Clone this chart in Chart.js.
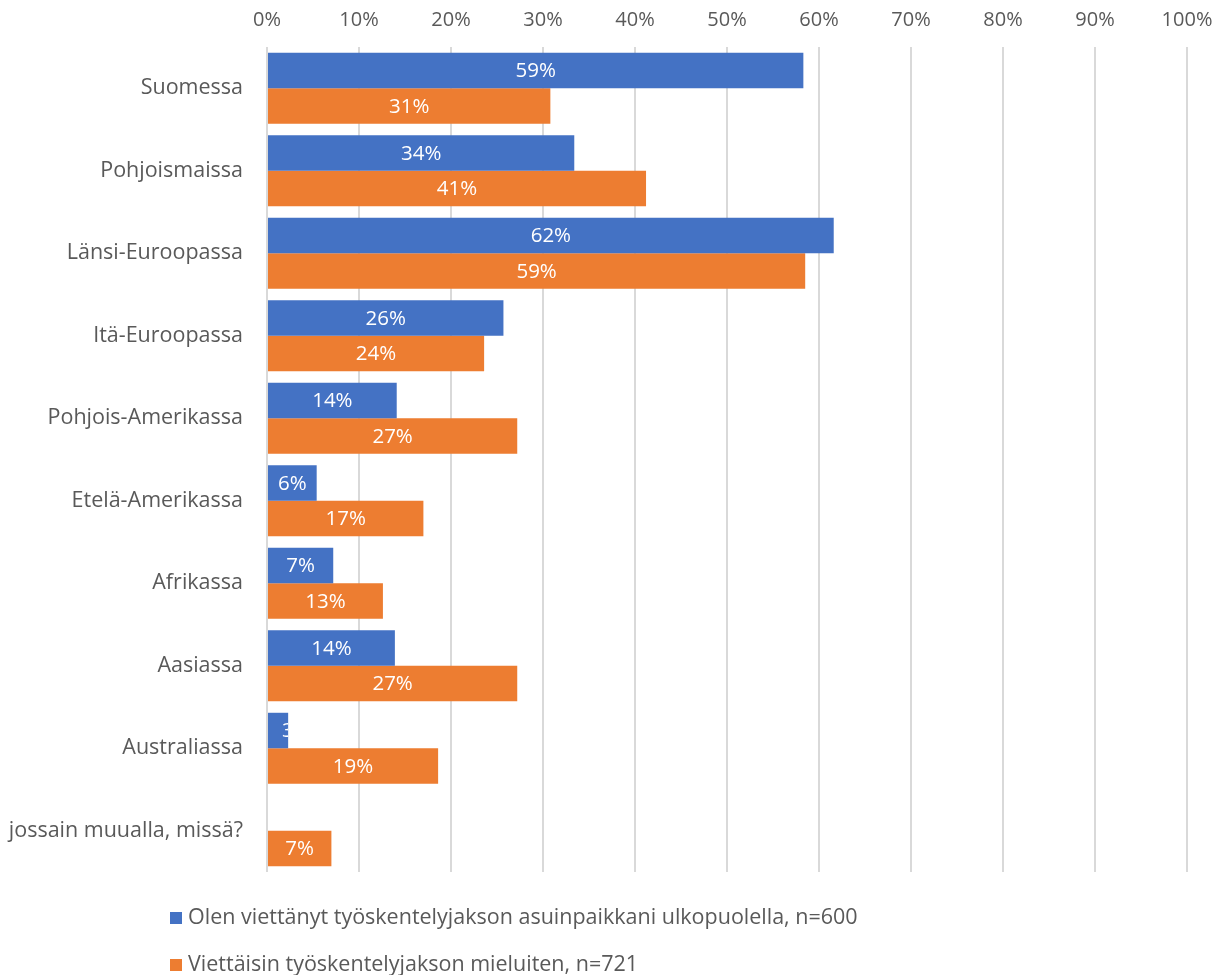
<!DOCTYPE html>
<html>
<head>
<meta charset="utf-8">
<script src="https://cdn.jsdelivr.net/npm/chart.js@4/dist/chart.umd.min.js"></script>
<style>
  html, body { margin: 0; padding: 0; background: #fff; }
  #wrap { width: 1216px; height: 975px; }
</style>
</head>
<body>
<div id="wrap"><canvas id="chart" width="1216" height="975"></canvas></div>
<script>
'use strict';
const categories = ['Suomessa', 'Pohjoismaissa', 'Länsi-Euroopassa', 'Itä-Euroopassa', 'Pohjois-Amerikassa',
  'Etelä-Amerikassa', 'Afrikassa', 'Aasiassa', 'Australiassa', 'jossain muualla, missä?'];
// bar lengths (%)
const olenValues = [58.3, 33.4, 61.6, 25.7, 14.1, 5.4, 7.2, 13.9, 2.3, null];
const viettaisinValues = [30.8, 41.2, 58.5, 23.6, 27.2, 17.0, 12.6, 27.2, 18.6, 7.0];
// labels printed in the bars
const olenLabels = ['59%', '34%', '62%', '26%', '14%', '6%', '7%', '14%', '3%', ''];
const viettaisinLabels = ['31%', '41%', '59%', '24%', '27%', '17%', '13%', '27%', '19%', '7%'];
const seriesNames = ['Olen viettänyt työskentelyjakson asuinpaikkani ulkopuolella, n=600',
  'Viettäisin työskentelyjakson mieluiten, n=721'];
const xTicks = ['0%', '10%', '20%', '30%', '40%', '50%', '60%', '70%', '80%', '90%', '100%'];

const blue = '#4472C4';
const orange = '#ED7D31';
const textGray = '#595959';
const fontFamily = '"Open Sans", Lato, sans-serif';

// white labels in the middle of each bar, clipped to the bar
const barLabels = {
  id: 'barLabels',
  afterDatasetsDraw(chart) {
    const ctx = chart.ctx;
    const texts = [olenLabels, viettaisinLabels];
    chart.data.datasets.forEach((ds, di) => {
      chart.getDatasetMeta(di).data.forEach((bar, i) => {
        if (ds.data[i] == null || !texts[di][i]) return;
        const p = bar.getProps(['x', 'y', 'base', 'height'], true);
        const left = Math.min(p.x, p.base), right = Math.max(p.x, p.base);
        ctx.save();
        ctx.beginPath();
        ctx.rect(left, p.y - p.height / 2, right - left, p.height);
        ctx.clip();
        ctx.fillStyle = '#fff';
        ctx.font = '20.5px ' + fontFamily;
        ctx.textAlign = 'center';
        ctx.textBaseline = 'middle';
        let cx = (left + right) / 2;
        const w = ctx.measureText(texts[di][i]).width;
        if (w > right - left) cx = left + 14 + w / 2;
        ctx.fillText(texts[di][i], cx, p.y + 1);
        ctx.restore();
      });
    });
  }
};

// legend drawn as two left-aligned rows
const rowLegend = {
  id: 'rowLegend',
  afterDraw(chart) {
    const ctx = chart.ctx;
    const colors = [blue, orange];
    const rows = [918, 965];
    ctx.save();
    ctx.font = '21.5px ' + fontFamily;
    ctx.textBaseline = 'middle';
    ctx.textAlign = 'left';
    seriesNames.forEach((name, i) => {
      ctx.fillStyle = colors[i];
      ctx.fillRect(170, rows[i] - 6, 12, 12);
      ctx.fillStyle = textGray;
      ctx.fillText(name, 188, rows[i]);
    });
    ctx.restore();
  }
};

const chartEl = document.getElementById('chart').getContext('2d');
new Chart(chartEl, {
  type: 'bar',
  data: {
    labels: categories,
    datasets: [{
      label: seriesNames[0],
      data: olenValues,
      backgroundColor: blue,
      categoryPercentage: 0.86,
      barPercentage: 1.0
    }, {
      label: seriesNames[1],
      data: viettaisinValues,
      backgroundColor: orange,
      categoryPercentage: 0.86,
      barPercentage: 1.0
    }]
  },
  options: {
    indexAxis: 'y',
    responsive: false,
    animation: false,
    devicePixelRatio: 1,
    layout: { padding: { top: 0, right: 29, bottom: 103, left: 0 } },
    plugins: {
      legend: { display: false },
      tooltip: { enabled: false }
    },
    scales: {
      x: {
        position: 'top',
        min: 0,
        max: 100,
        afterFit(scale) { scale.height = 47; scale.paddingRight = 0; },
        ticks: {
          stepSize: 10,
          padding: 15,
          color: textGray,
          font: { family: fontFamily, size: 20 },
          callback: (v, i) => xTicks[i]
        },
        grid: { color: '#d9d9d9', lineWidth: 2, drawTicks: false },
        border: { display: false }
      },
      y: {
        afterFit(scale) { scale.width = 267; },
        ticks: {
          padding: 24,
          color: textGray,
          font: { family: fontFamily, size: 21.5 }
        },
        grid: { display: false, drawTicks: false },
        border: { display: false }
      }
    }
  },
  plugins: [barLabels, rowLegend]
});
</script>
</body>
</html>
